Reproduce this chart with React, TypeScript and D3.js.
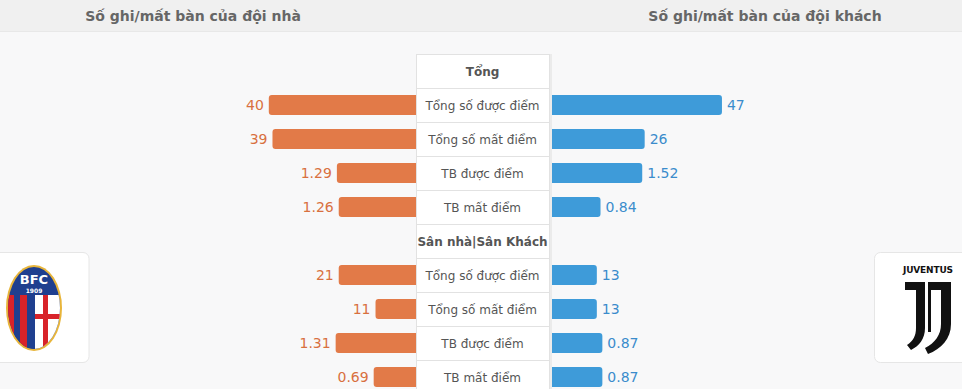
import { useEffect, useRef } from "react";
import * as d3 from "d3";

// Chart data
const homeTitle = "Số ghi/mất bàn của đội nhà";
const awayTitle = "Số ghi/mất bàn của đội khách";
const sections = ["Tổng", "Sân nhà|Sân Khách"];
const categories = ["Tổng số được điểm", "Tổng số mất điểm", "TB được điểm", "TB mất điểm"];
const isAverage = [false, false, true, true];
const homeTotal = [40, 39, 1.29, 1.26];
const awayTotal = [47, 26, 1.52, 0.84];
const homeSplit = [21, 11, 1.31, 0.69];
const awaySplit = [13, 13, 0.87, 0.87];

const W = 962;
const H = 389;

export default function App() {
  const svgRef = useRef<SVGSVGElement>(null);

  useEffect(() => {
    document.body.style.margin = "0";
    if (!svgRef.current) return;
    const svg = d3.select(svgRef.current);
    svg.selectAll("*").remove();

    const font = "'DejaVu Sans', Verdana, sans-serif";
    const orange = "#e27a48";
    const orangeText = "#d8703f";
    const blue = "#3e9bd9";
    const blueText = "#3b8ccc";

    // background
    svg.append("rect").attr("width", W).attr("height", H).attr("fill", "#f8f8f9");
    svg.append("rect").attr("width", W).attr("height", 31).attr("fill", "#f0f0f0");
    svg.append("line").attr("x1", 0).attr("x2", W).attr("y1", 31.5).attr("y2", 31.5).attr("stroke", "#e8e8e8");

    svg.append("text").attr("x", 193).attr("y", 21).attr("text-anchor", "middle")
      .attr("font-family", font).attr("font-size", 14).attr("font-weight", "bold").attr("fill", "#666")
      .text(homeTitle);
    svg.append("text").attr("x", 765).attr("y", 21).attr("text-anchor", "middle")
      .attr("font-family", font).attr("font-size", 14).attr("font-weight", "bold").attr("fill", "#666")
      .text(awayTitle);

    // rows: section header, 4 categories, section header, 4 categories
    type Row = { kind: "head" | "bar"; label: string; home?: number; away?: number; avg?: boolean };
    const rows: Row[] = [];
    [ [homeTotal, awayTotal], [homeSplit, awaySplit] ].forEach(([h, a], s) => {
      rows.push({ kind: "head", label: sections[s] });
      categories.forEach((c, i) => rows.push({ kind: "bar", label: c, home: h[i], away: a[i], avg: isAverage[i] }));
    });

    const tableLeft = 416;
    const tableRight = 549;
    const y = d3.scaleBand<number>().domain(d3.range(rows.length)).range([54, 54 + 34 * rows.length]);
    const goalScale = d3.scaleLinear().domain([0, 50]).range([0, 184]);
    const avgScale = d3.scaleLinear().domain([0, 3]).range([0, 184]);
    const barH = 20;

    const g = svg.append("g");

    // bars
    rows.forEach((r, i) => {
      if (r.kind !== "bar") return;
      const sc = r.avg ? avgScale : goalScale;
      const cy = (y(i) as number) + y.bandwidth() / 2;
      const hw = sc(r.home as number);
      const aw = sc(r.away as number);
      g.append("rect").attr("x", tableLeft - hw).attr("y", cy - barH / 2).attr("width", hw + 6).attr("height", barH)
        .attr("rx", 3).attr("fill", orange);
      g.append("rect").attr("x", tableRight - 6).attr("y", cy - barH / 2).attr("width", aw + 6).attr("height", barH)
        .attr("rx", 3).attr("fill", blue);
      g.append("text").attr("x", tableLeft - hw - 5).attr("y", cy + 5).attr("text-anchor", "end")
        .attr("font-family", font).attr("font-size", 14).attr("fill", orangeText).text(String(r.home));
      g.append("text").attr("x", tableRight + aw + 5).attr("y", cy + 5)
        .attr("font-family", font).attr("font-size", 14).attr("fill", blueText).text(String(r.away));
    });

    // center table
    const tw = tableRight - tableLeft;
    g.append("rect").attr("x", tableLeft + 1).attr("y", 54).attr("width", tw + 2).attr("height", H - 54)
      .attr("fill", "#ebebeb");
    rows.forEach((r, i) => {
      const top = y(i) as number;
      g.append("rect").attr("x", tableLeft + 0.5).attr("y", top + 0.5).attr("width", tw).attr("height", y.bandwidth())
        .attr("fill", "#fff").attr("stroke", "#e2e2e2");
      g.append("text").attr("x", tableLeft + tw / 2).attr("y", top + y.bandwidth() / 2 + 4.5)
        .attr("text-anchor", "middle").attr("font-family", font).attr("font-size", 12)
        .attr("font-weight", r.kind === "head" ? "bold" : "normal")
        .attr("fill", "#555").text(r.label);
    });

    // logo cards
    const cards = svg.append("g");
    cards.append("rect").attr("x", -8).attr("y", 252.5).attr("width", 97).attr("height", 110).attr("rx", 6)
      .attr("fill", "#fff").attr("stroke", "#e6e6e6");
    cards.append("rect").attr("x", 874.5).attr("y", 252.5).attr("width", 100).attr("height", 110).attr("rx", 6)
      .attr("fill", "#fff").attr("stroke", "#e6e6e6");

    // Bologna crest
    const bfc = cards.append("g");
    const cx = 34, cy = 308, rx = 28, ry = 43;
    const defs = svg.append("defs");
    defs.append("clipPath").attr("id", "bfc-clip").append("ellipse")
      .attr("cx", cx).attr("cy", cy).attr("rx", rx - 2).attr("ry", ry - 2);
    bfc.append("ellipse").attr("cx", cx).attr("cy", cy).attr("rx", rx).attr("ry", ry).attr("fill", "#e8b53a");
    const inner = bfc.append("g").attr("clip-path", "url(#bfc-clip)");
    inner.append("rect").attr("x", cx - rx).attr("y", cy - ry).attr("width", rx * 2).attr("height", ry * 2).attr("fill", "#1f3f8f");
    const top = cy - 13;
    const stripes = [
      { x: cx - rx, w: 8, c: "#d8232a" },
      { x: cx - rx + 8, w: 6, c: "#1f3f8f" },
      { x: cx - rx + 14, w: 7, c: "#d8232a" },
      { x: cx - rx + 21, w: 6, c: "#1f3f8f" },
    ];
    stripes.forEach((s) => inner.append("rect").attr("x", s.x).attr("y", top).attr("width", s.w).attr("height", 70).attr("fill", s.c));
    inner.append("rect").attr("x", cx + 1).attr("y", top).attr("width", rx).attr("height", 70).attr("fill", "#fff");
    inner.append("rect").attr("x", cx + 9).attr("y", top).attr("width", 5).attr("height", 70).attr("fill", "#d8232a");
    inner.append("rect").attr("x", cx + 1).attr("y", cy + 6).attr("width", rx).attr("height", 5).attr("fill", "#d8232a");
    inner.append("rect").attr("x", cx - 1).attr("y", top).attr("width", 2).attr("height", 70).attr("fill", "#1f3f8f");
    bfc.append("text").attr("x", cx).attr("y", cy - 24).attr("text-anchor", "middle").attr("font-family", font)
      .attr("font-size", 13).attr("font-weight", "bold").attr("fill", "#fff").text("BFC");
    bfc.append("text").attr("x", cx).attr("y", cy - 15.5).attr("text-anchor", "middle").attr("font-family", font)
      .attr("font-size", 6).attr("font-weight", "bold").attr("fill", "#fff").text("1909");

    // Juventus logo
    const juv = cards.append("g");
    juv.append("text").attr("x", 928).attr("y", 273).attr("text-anchor", "middle").attr("font-family", font)
      .attr("font-size", 9).attr("font-weight", "bold").attr("fill", "#111").attr("textLength", 50)
      .text("JUVENTUS");
    juv.append("path").attr("fill", "#111")
      .attr("d", "M905,282 L925,282 L925,328 C925,339 919,346 911,350 L907,345 C913,341 916,336 916,328 L916,290 L905,290 Z");
    juv.append("path").attr("fill", "#111")
      .attr("d", "M929,282 L951,282 L951,324 C951,339 941,349 928,354 L925,348 C935,343 941,335 941,324 L941,290 L929,290 Z");
    juv.append("rect").attr("x", 928).attr("y", 282).attr("width", 3).attr("height", 50).attr("fill", "#111");
  }, []);

  return (
    <svg ref={svgRef} width={W} height={H} style={{ display: "block" }} />
  );
}
